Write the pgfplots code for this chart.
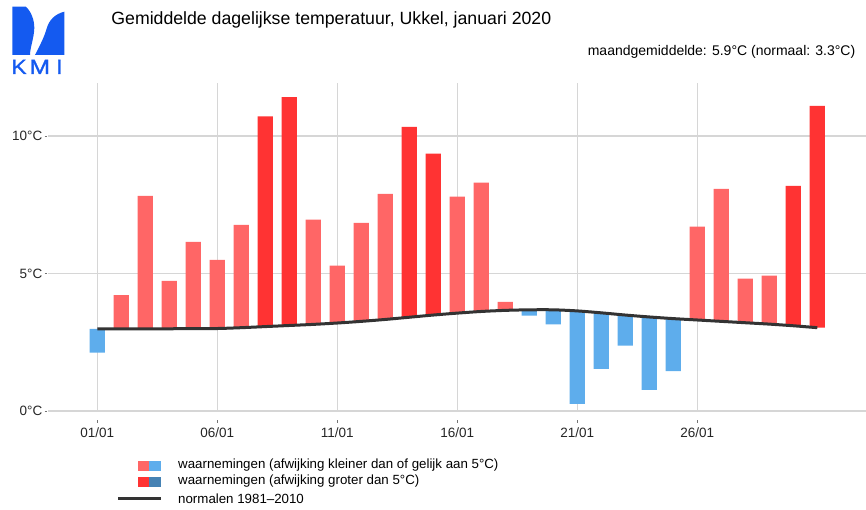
\documentclass[border=0pt]{standalone}
\usepackage{fontspec}
\setmainfont{Liberation Sans}
\newfontfamily\kmifont[FakeBold=1.3]{Liberation Sans}
\usepackage{pgfplots}
\usepackage{pgfplotstable}
\pgfplotsset{compat=1.18}
\definecolor{lred}{RGB}{255,102,102}
\definecolor{dred}{RGB}{255,51,51}
\definecolor{lblue}{RGB}{94,173,236}
\definecolor{dblue}{RGB}{70,130,180}
\definecolor{normc}{RGB}{51,51,51}
\definecolor{gridc}{RGB}{214,214,214}
\definecolor{kmi}{RGB}{20,90,240}

% cls: 1 = deviation <= 5 (above normal), 2 = deviation > 5 (above), 3 = below normal, <= 5
\pgfplotstableread{
day normal obs cls
1 2.99 2.12 3
2 2.99 4.21 1
3 2.99 7.82 1
4 2.99 4.73 1
5 3.00 6.15 1
6 3.00 5.50 1
7 3.03 6.77 1
8 3.07 10.72 2
9 3.11 11.42 2
10 3.15 6.96 1
11 3.20 5.29 1
12 3.26 6.84 1
13 3.33 7.90 1
14 3.41 10.33 2
15 3.49 9.36 2
16 3.56 7.80 1
17 3.62 8.31 1
18 3.66 3.97 1
19 3.68 3.47 3
20 3.68 3.15 3
21 3.64 0.26 3
22 3.57 1.53 3
23 3.49 2.38 3
24 3.42 0.77 3
25 3.36 1.45 3
26 3.31 6.71 1
27 3.26 8.08 1
28 3.21 4.81 1
29 3.16 4.92 1
30 3.10 8.19 2
31 3.03 11.10 2
}\datatable

\pgfplotsset{
  common/.style={
    at={(48pt,99pt)}, anchor=south west, scale only axis,
    width=818pt, height=328pt,
    xmin=-1.054, xmax=33.03, ymin=0, ymax=11.93,
  }
}

\begin{document}
\begin{tikzpicture}[x=1pt,y=1pt]
\useasboundingbox (0pt,0pt) rectangle (866pt,510pt);

% KMI logo
\fill[kmi] (12.3pt,503.3pt) -- (25.7pt,503.3pt) .. controls (31pt,499pt) and (34.5pt,490pt) .. (34.3pt,481.7pt)
   .. controls (34pt,472pt) and (30pt,462pt) .. (30pt,455pt) -- (12.3pt,455pt) -- cycle;
\fill[kmi] (64.3pt,498.3pt) -- (64.3pt,455pt) -- (35pt,455pt) .. controls (39pt,463pt) and (44pt,472pt) .. (46.5pt,481pt)
   .. controls (49pt,490pt) and (55pt,496pt) .. (64.3pt,498.3pt) -- cycle;
\begin{scope}[kmi]
\node[anchor=base west, inner sep=0pt, xscale=1.1] at (11.3pt,436pt) {\kmifont\fontsize{20.5}{21}\selectfont K};
\node[anchor=base west, inner sep=0pt, xscale=1.2] at (29.3pt,436pt) {\kmifont\fontsize{20.5}{21}\selectfont M};
\node[anchor=base west, inner sep=0pt, xscale=1.1] at (56.0pt,436pt) {\kmifont\fontsize{20.5}{21}\selectfont I};
\end{scope}

% titles
\node[anchor=base west, inner sep=0pt] at (111.2pt,485pt) {\fontsize{17.7}{20}\selectfont Gemiddelde dagelijkse temperatuur, Ukkel, januari 2020};
\node[anchor=base east, inner sep=0pt] at (855.5pt,454.3pt) {\fontsize{14}{16}\selectfont maandgemiddelde: 5.9°C (normaal: 3.3°C)};

\begin{axis}[common,
  ybar stacked, bar width=15.3pt,
  axis line style={draw=none},
  grid=major, major grid style={gridc, line width=1.3pt},
  tick pos=left, tick align=outside, major tick length=2.5pt,
  tick style={color=black!55, line width=0.8pt},
  xtick style={draw=none},
  ytick style={xshift=-1pt},
  xtick={1,6,11,16,21,26},
  xticklabels={01/01,06/01,11/01,16/01,21/01,26/01},
  ytick={0,5,10},
  yticklabels={0°C,5°C,10°C},
  tick label style={font=\fontsize{13.5}{16}\selectfont, text=black!85},
  xticklabel style={anchor=base, inner sep=0pt, yshift=-24pt},
  yticklabel style={anchor=east, inner sep=0pt, xshift=-3pt},
]
% invisible base: the lower end of each bar (normal, or the observation when below normal)
\addplot[draw=none, fill=none] table[x=day, y expr={\thisrow{cls}==3 ? \thisrow{obs} : \thisrow{normal}}]{\datatable};
\addplot[draw=none, fill=lred] table[x=day, y expr={\thisrow{cls}==1 ? \thisrow{obs}-\thisrow{normal} : 0}]{\datatable};
\addplot[draw=none, fill=dred] table[x=day, y expr={\thisrow{cls}==2 ? \thisrow{obs}-\thisrow{normal} : 0}]{\datatable};
\addplot[draw=none, fill=lblue] table[x=day, y expr={\thisrow{cls}==3 ? \thisrow{normal}-\thisrow{obs} : 0}]{\datatable};
\end{axis}

\begin{axis}[common, hide axis]
\addplot[normc, line width=3pt, smooth] table[x=day, y=normal]{\datatable};
\end{axis}

% x tick marks, set slightly below the panel as in the reference
\begin{axis}[at={(48pt,90pt)}, anchor=south west, scale only axis,
  width=818pt, height=5pt, xmin=-1.054, xmax=33.03, ymin=0, ymax=1,
  axis line style={draw=none}, ytick=\empty,
  xtick={1,6,11,16,21,26}, xticklabels={},
  tick pos=left, tick align=outside, major tick length=3pt,
  tick style={color=black!55, line width=0.8pt}]
\addplot[draw=none] coordinates {(1,0.5)};
\end{axis}

% legend
\fill[lred] (137.7pt,39.3pt) rectangle (149.3pt,49.3pt);
\fill[lblue] (149.3pt,39.3pt) rectangle (160.7pt,49.3pt);
\fill[dred] (137.7pt,22.7pt) rectangle (149.3pt,32.7pt);
\fill[dblue] (149.3pt,22.7pt) rectangle (160.7pt,32.7pt);
\draw[normc, line width=3pt] (118pt,11pt) -- (160.7pt,11pt);
\begin{scope}[every node/.style={anchor=base west, inner sep=0pt, font=\fontsize{13.3}{16}\selectfont}]
\node at (178pt,41.7pt) {waarnemingen (afwijking kleiner dan of gelijk aan 5°C)};
\node at (178pt,25pt) {waarnemingen (afwijking groter dan 5°C)};
\node at (178pt,6.7pt) {normalen 1981–2010};
\end{scope}
\end{tikzpicture}
\end{document}
